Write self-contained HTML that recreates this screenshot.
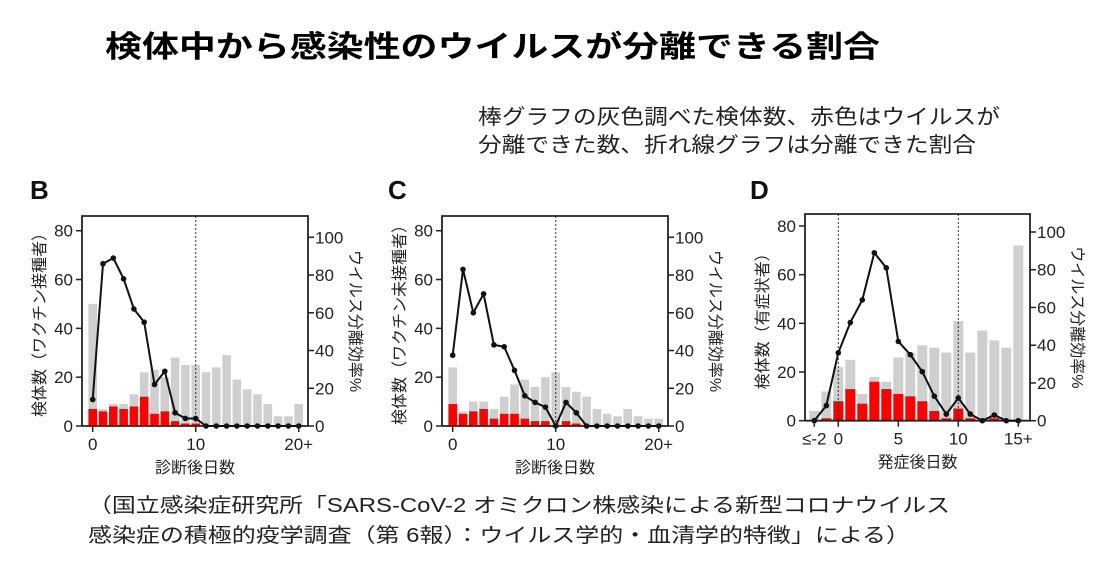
<!DOCTYPE html>
<html><head><meta charset="utf-8"><style>
body{margin:0;background:#fff;}
svg{display:block;font-family:"Liberation Sans","Noto Sans CJK JP",sans-serif;}
</style></head><body>
<svg id="s" width="1118" height="580" viewBox="0 0 1118 580">
<text x="105" y="57" font-size="30" font-weight="bold" textLength="775" lengthAdjust="spacingAndGlyphs">検体中から感染性のウイルスが分離できる割合</text>
<text x="478" y="124" font-size="21" fill="#222" textLength="522" lengthAdjust="spacingAndGlyphs">棒グラフの灰色調べた検体数、赤色はウイルスが</text>
<text x="478" y="152" font-size="21" fill="#222" textLength="498" lengthAdjust="spacingAndGlyphs">分離できた数、折れ線グラフは分離できた割合</text>
<text x="88" y="512" font-size="20" fill="#222" textLength="862" lengthAdjust="spacingAndGlyphs">（国立感染症研究所「SARS-CoV-2 オミクロン株感染による新型コロナウイルス</text>
<text x="88" y="542" font-size="20" fill="#222" textLength="822" lengthAdjust="spacingAndGlyphs">感染症の積極的疫学調査（第 6報）：ウイルス学的・血清学的特徴」による）</text>
</svg>
<script>
const bCats=[0,1,2,3,4,5,6,7,8,9,10,11,12,13,14,15,16,17,18,19,20];
const bTotal=[50,7,9,9,13,22,23,20,28,25,25,22,24,29,19,15,13,9,4,4,9];
const bPos=[7,6,8,7,8,12,5,6,2,1,1,0,0,0,0,0,0,0,0,0,0];
const bRate=[14,86,89,78,62,55,22,29,7,4,4,0,0,0,0,0,0,0,0,0,0];
const bTicks=["0","10","20+"];
const cCats=[0,1,2,3,4,5,6,7,8,9,10,11,12,13,14,15,16,17,18,19,20];
const cTotal=[24,6,10,10,7,12,17,19,16,20,22,16,14,12,7,5,4,7,4,3,3];
const cPos=[9,5,6,7,3,5,5,3,2,2,0,2,1,0,0,0,0,0,0,0,0];
const cRate=[37.5,83,60,70,43,42,29.5,16,12.5,10,0,12.5,7,0,0,0,0,0,0,0,0];
const cTicks=["0","10","20+"];
const dCats=[-2,-1,0,1,2,3,4,5,6,7,8,9,10,11,12,13,14,15];
const dTotal=[4,12,22,25,11,18,16,26,28,31,30,28,41,28,37,33,30,72];
const dPos=[0,1,8,13,7,16,13,11,10,8,4,1,5,1,0,1,0,0];
const dRate=[0,8,36,52,64,89,81,42,35,26,13,3.5,12,3.5,0,3,0,0];
const dTicks=["≤-2","0","5","10","15+"];
const dTickVals=[-2,0,5,10,15];
const leftTicks=[0,20,40,60,80];
const rightTicks=[0,20,40,60,80,100];

const S=document.getElementById('s');
const NS='http://www.w3.org/2000/svg';
function mk(tag,a,txt){const e=document.createElementNS(NS,tag);for(const k in a)e.setAttribute(k,a[k]);if(txt!==undefined)e.textContent=txt;S.appendChild(e);return e;}

function chart(o){
  const {id,L,R,top,y0,y80,y100,x0,dx,cats,total,pos,rate,ticks,tickVals,dotted,bw,letter,lx,ytitle,xtitle}=o;
  const yL=v=>y0-(y0-y80)*v/80;
  const yR=v=>y0-(y0-y100)*v/100;
  const xs=c=>x0+dx*(c-cats[0]);
  cats.forEach((c,i)=>{
    let r=mk('rect',{x:xs(c)-bw/2,y:yL(total[i]),width:bw,height:y0-yL(total[i]),fill:'#cfcfcf'});
    
    
    if(pos[i]>0){let p=mk('rect',{x:xs(c)-bw/2,y:yL(pos[i]),width:bw,height:y0-yL(pos[i]),fill:'#ff0000'});
    
    }
  });
  dotted.forEach(d=>{let l=mk('line',{x1:xs(d),x2:xs(d),y1:top,y2:y0,stroke:'#333','stroke-width':1,'stroke-dasharray':'2,2'});
    
    });
  let f=mk('path',{d:`M${L},${y0}V${top}H${R}V${y0}H${L}`,fill:'none',stroke:'#222','stroke-width':1.8});
  
  
  let pts=cats.map((c,i)=>xs(c)+','+yR(rate[i])).join(' ');
  let pl=mk('polyline',{points:pts,fill:'none',stroke:'#111','stroke-width':2});
  
  
  cats.forEach((c,i)=>{let d=mk('circle',{cx:xs(c),cy:yR(rate[i]),r:2.8,fill:'#111'});
    
    });
  leftTicks.forEach(v=>{mk('line',{x1:L-6,x2:L,y1:yL(v),y2:yL(v),stroke:'#222','stroke-width':1.5});
    let t=mk('text',{x:L-9,y:yL(v)+6,'font-size':17,'text-anchor':'end',fill:'#222'},v);
    
    });
  rightTicks.forEach(v=>{mk('line',{x1:R,x2:R+6,y1:yR(v),y2:yR(v),stroke:'#222','stroke-width':1.5});
    let t=mk('text',{x:R+7,y:yR(v)+6,'font-size':17,fill:'#222'},v);
    
    });
  ticks.forEach((lab,i)=>{const c=tickVals[i];
    mk('line',{x1:xs(c),x2:xs(c),y1:y0,y2:y0+6,stroke:'#222','stroke-width':1.5});
    let t=mk('text',{x:xs(c),y:y0+24,'font-size':17,'text-anchor':'middle',fill:'#222'},lab);
    
    });
  let xt=mk('text',{x:(L+R)/2,y:y0+47,'font-size':16,'text-anchor':'middle',fill:'#222'},xtitle);
  
  
  let yc=(top+y0)/2;
  let yt=mk('text',{x:0,y:0,'font-size':16,'text-anchor':'middle',fill:'#222',transform:`translate(${L-37},${yc}) rotate(-90)`},ytitle);
  
  
  let rt=mk('text',{x:0,y:0,'font-size':16,'text-anchor':'middle',fill:'#222',transform:`translate(${R+42},${yc}) rotate(90)`},'ウイルス分離効率%');
  
  
  let lt=mk('text',{x:lx,y:199,'font-size':26,'font-weight':'bold',fill:'#111'},letter);
  
  
}
chart({id:'panel-b',L:82,R:308,top:216,y0:426,y80:230.7,y100:237.3,x0:92.7,dx:10.3,cats:bCats,total:bTotal,pos:bPos,rate:bRate,ticks:bTicks,tickVals:[0,10,20],dotted:[10],bw:8.6,letter:'B',lx:30,ytitle:'検体数（ワクチン接種者）',xtitle:'診断後日数'});
chart({id:'panel-c',L:442,R:668,top:216,y0:426,y80:230.7,y100:237.3,x0:452.7,dx:10.3,cats:cCats,total:cTotal,pos:cPos,rate:cRate,ticks:cTicks,tickVals:[0,10,20],dotted:[10],bw:8.6,letter:'C',lx:388,ytitle:'検体数（ワクチン未接種者）',xtitle:'診断後日数'});
chart({id:'panel-d',L:805,R:1030,top:214,y0:420.7,y80:226,y100:232,x0:814.3,dx:12,cats:dCats,total:dTotal,pos:dPos,rate:dRate,ticks:dTicks,tickVals:dTickVals,dotted:[0,10],bw:10,letter:'D',lx:750,ytitle:'検体数（有症状者）',xtitle:'発症後日数'});
</script>
</body></html>
